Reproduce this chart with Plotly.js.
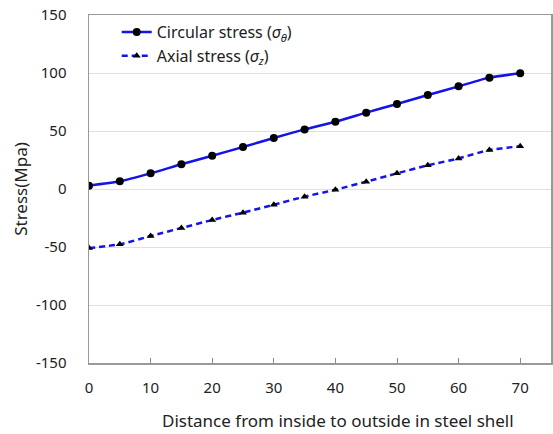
<!DOCTYPE html>
<html>
<head>
<meta charset="utf-8">
<script src="https://cdn.plot.ly/plotly-3.0.1.min.js"></script>
<style>html,body{margin:0;padding:0;background:#fff}#chart{width:553px;height:434px}</style>
</head>
<body>
<div id="chart"></div>
<script>
var distance = [0, 5, 10, 15, 20, 25, 30, 35, 40, 45, 50, 55, 60, 65, 70];
var circularStress = [2.9, 6.6, 13.5, 21.3, 28.7, 36.2, 44, 51.4, 58, 65.8, 73.3, 81, 88.5, 96, 99.7];
var axialStress = [-50.9, -47.7, -40.5, -33.6, -26.7, -20.4, -13.5, -6.6, -0.6, 6.3, 13.5, 20.4, 26.4, 33.6, 36.8];
var seriesNames = ['Circular stress (<i>σ</i><sub><i>θ</i></sub>)', 'Axial stress (<i>σ</i><sub><i>z</i></sub>)'];
var xTicks = [0, 10, 20, 30, 40, 50, 60, 70];
var yTicks = [-150, -100, -50, 0, 50, 100, 150];
var yTickLabels = ['-150', '-100', '-50', '0', '50', '100', '150'];
var xTitle = 'Distance from inside to outside in steel shell';
var yTitle = 'Stress(Mpa)';

var font = 'Noto Sans, Open Sans, sans-serif';
var traces = [
  {x: distance, y: circularStress, name: seriesNames[0], type: 'scatter', mode: 'lines+markers',
   line: {color: '#1414e6', width: 2.5, shape: 'spline', smoothing: 0.6},
   marker: {symbol: 'circle', size: 8, color: '#000'}},
  {x: distance, y: axialStress, name: seriesNames[1], type: 'scatter', mode: 'lines+markers',
   line: {color: '#1414e6', width: 2.5, dash: '6px,4px', shape: 'spline', smoothing: 0.6},
   marker: {symbol: 'triangle-up', size: 7, color: '#000'}}
];
var layout = {
  width: 553, height: 434,
  margin: {l: 89, r: 2, t: 15, b: 71, pad: 0},
  paper_bgcolor: '#fff', plot_bgcolor: '#fff',
  font: {family: font, size: 14, color: '#222'},
  showlegend: true,
  legend: {x: 0.06, y: 1.0, xanchor: 'left', yanchor: 'top', bgcolor: 'rgba(0,0,0,0)',
           font: {family: font, size: 16, color: '#222'}, tracegroupgap: 4, itemwidth: 30},
  xaxis: {range: [0, 75], tickvals: xTicks, ticks: 'inside', ticklen: 5, tickcolor: '#888',
          showline: true, linecolor: '#999', linewidth: 1.5, mirror: true, showgrid: false, zeroline: false,
          tickfont: {size: 15}, ticklabelstandoff: 10},
  yaxis: {range: [-150, 150], tickvals: yTicks, ticktext: yTickLabels, ticks: '', showline: true, linecolor: '#999', linewidth: 1.5,
          mirror: true, showgrid: true, gridcolor: '#e0e0e0', gridwidth: 1, zeroline: false,
          tickfont: {size: 15}, ticklabelstandoff: 18,
          title: {text: yTitle, font: {size: 17}, standoff: 4}},
  annotations: [
    {text: xTitle, xref: 'paper', yref: 'paper', x: 0.539, y: -0.165, xanchor: 'center', yanchor: 'middle',
     showarrow: false, font: {family: font, size: 17, color: '#222'}}
  ]
};
Plotly.newPlot('chart', traces, layout, {displayModeBar: false, staticPlot: true});
</script>
</body>
</html>
